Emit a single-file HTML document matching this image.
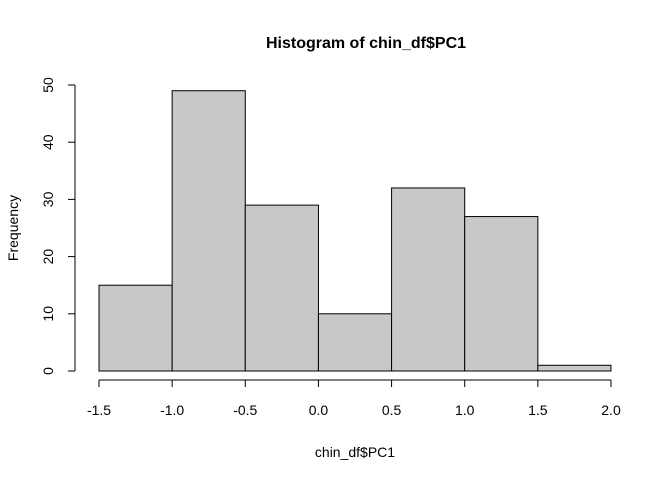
<!DOCTYPE html>
<html><head><meta charset="utf-8"><style>
body{margin:0;background:#fff}
svg text{font-family:"Liberation Sans",Arial,sans-serif;fill:#000}
</style></head><body>
<svg id="chart" width="672" height="480">
<text x="366" y="48" font-size="16" font-weight="bold" text-anchor="middle">Histogram of chin_df$PC1</text>
<text x="355" y="457" font-size="14" text-anchor="middle">chin_df$PC1</text>
<text x="18" y="228" font-size="14" text-anchor="middle" transform="rotate(-90 18 228)">Frequency</text>
<g id="bars"></g>
<g id="xaxis"></g>
<g id="yaxis"></g>
</svg>
<script>
const breaks = [-1.5,-1.0,-0.5,0.0,0.5,1.0,1.5,2.0];
const counts = [15,49,29,10,32,27,1];
const xTicks = [-1.5,-1.0,-0.5,0.0,0.5,1.0,1.5,2.0];
const xTickLabels = ["-1.5","-1.0","-0.5","0.0","0.5","1.0","1.5","2.0"];
const yTicks = [0,10,20,30,40,50];
const NS="http://www.w3.org/2000/svg";
const X=v=>99+(v+1.5)*(611-99)/3.5;
const Y=v=>371-v*5.72;
function mk(t,a,p){const e=document.createElementNS(NS,t);for(const k in a)e.setAttribute(k,a[k]);p.appendChild(e);return e;}
const bars=document.getElementById('bars');
counts.forEach((c,i)=>{
  const r=mk('rect',{x:X(breaks[i]),y:Y(c),width:X(breaks[i+1])-X(breaks[i]),height:Y(0)-Y(c),fill:'#c8c8c8',stroke:'#000','stroke-width':1},bars);
  
  
});
const xa=document.getElementById('xaxis');
mk('line',{x1:X(xTicks[0]),x2:X(xTicks[xTicks.length-1]),y1:380,y2:380,stroke:'#000'},xa);
xTicks.forEach((t,i)=>{
  mk('line',{x1:X(t),x2:X(t),y1:380,y2:387,stroke:'#000'},xa);
  const tx=mk('text',{x:X(t),y:415,'font-size':14,'text-anchor':'middle'},xa);
  tx.textContent=xTickLabels[i];
  
  
});
const ya=document.getElementById('yaxis');
mk('line',{x1:75,x2:75,y1:Y(yTicks[0]),y2:Y(yTicks[yTicks.length-1]),stroke:'#000'},ya);
yTicks.forEach(t=>{
  mk('line',{x1:68,x2:75,y1:Y(t),y2:Y(t),stroke:'#000'},ya);
  const tx=mk('text',{x:53,y:Y(t),'font-size':14,'text-anchor':'middle',transform:`rotate(-90 53 ${Y(t)})`},ya);
  tx.textContent=t;
  
  
});
</script>
</body></html>
